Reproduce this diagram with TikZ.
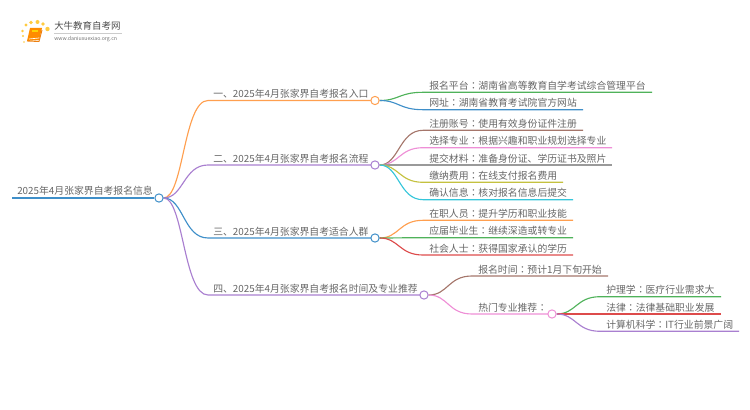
\documentclass[tikz,border=0pt]{standalone}
\usepackage{fontspec}
\setmainfont{Noto Sans CJK SC}
\newfontfamily\tcfont{Noto Sans CJK TC}
\newcommand{\cln}{{\tcfont ：}}
\usetikzlibrary{backgrounds,calc}
\definecolor{cOrange}{HTML}{FF9F4F}
\definecolor{cPurple}{HTML}{A97FD0}
\definecolor{cBlue}{HTML}{3F8FC9}
\definecolor{cGreen}{HTML}{4FB25A}
\definecolor{cBrown}{HTML}{A5766B}
\definecolor{cPink}{HTML}{EE8FD6}
\definecolor{cGray}{HTML}{9A9A9A}
\definecolor{cOlive}{HTML}{C4C13F}
\definecolor{cCyan}{HTML}{35C6DA}
\definecolor{cRed}{HTML}{DD4B4B}
\definecolor{cText}{HTML}{666666}
\tikzset{
  lbl/.style={font=\fontsize{7.38pt}{9pt}\selectfont,text=cText,inner sep=0pt,anchor=base west},
  hub/.style={circle,draw=#1,fill=white,line width=0.75pt,inner sep=0pt,minimum size=6.2pt},
  wire/.style={draw=#1,line width=0.85pt},
  rootwire/.style={draw=#1,line width=1.4pt}
}
% \twig{name}{parent}{x start}{x end}{y}{colour}{text}{text x}
\newcommand{\twig}[8]{%
  \coordinate (#1s) at (#3,#5);
  \coordinate (#1e) at (#4,#5);
  \node[lbl] (#1) at (#8,#5-3) {#7};
  \begin{pgfonlayer}{background}
    \path let \p1=(#2), \p2=(#1s) in
      [wire=#6] (#2) .. controls (\x1*0.5+\x2*0.5,\y1) and (\x1*0.5+\x2*0.5,\y2) .. (#1s) -- (#1e);
  \end{pgfonlayer}
}
\begin{document}
\begin{tikzpicture}[x=0.75pt,y=-0.75pt]
\useasboundingbox (0,0) rectangle (750,410);

% logo
\foreach \n/\a/\b/\r in {d1/26/25/1.6,d2/31/22.5/1.9,d3/37.5/22/2,d4/43/24/1.9,d5/47.5/29/2.2,d6/22.5/31/1.3,d7/23/36/1.1,d8/24/42/0.9}
  \fill[orange!55!yellow,opacity=.75] (\a,\b) circle[radius=\r*0.75pt];
\fill[orange!90!yellow] (30,28) -- (42,28) -- (39,40) -- (27,41) -- cycle;
\draw[white,line width=.5pt] (29,39) -- (39,38);
\draw[orange!70!brown,line width=.7pt] (27,41) -- (39,41.5) -- (42,30);
\fill[yellow!70!orange] (32,30) rectangle (38,32);
\node[inner sep=0pt,anchor=west,text=black!70,font=\fontsize{7.1pt}{9pt}\selectfont] (logotitle) at (54,26) {大牛教育自考网};
\node[inner sep=0pt,anchor=west,text=black!55,font=\fontsize{3.9pt}{5pt}\selectfont] (logourl) at (54,39) {www.daniuxuexiao.org.cn};
\draw[black!20,line width=.4pt] (54,33.5) -- (122,33.5);

% hubs
\node[hub=cBlue] (root) at (159,198) {};
\node[hub=cOrange] (b1) at (375,100.5) {};
\node[hub=cPurple] (b2) at (375,165) {};
\node[hub=cBlue] (b3) at (375,238) {};
\node[hub=cPurple] (b4) at (424,295) {};
\node[hub=cPink] (b5) at (552,314) {};

% root
\coordinate (rootstart) at (12,198);
\node[lbl] (roottext) at (17,195) {2025年4月张家界自考报名信息};
\begin{pgfonlayer}{background}
  \path[rootwire=cBlue] (rootstart) -- (root);
\end{pgfonlayer}

% main branches
\twig{m1}{root}{208}{375}{100.5}{cOrange}{一、2025年4月张家界自考报名入口}{213}
\twig{m2}{root}{208}{375}{165}{cPurple}{二、2025年4月张家界自考报名流程}{213}
\twig{m3}{root}{208}{375}{238}{cBlue}{三、2025年4月张家界自考适合人群}{213}
\twig{m4}{root}{208}{424}{295}{cPurple}{四、2025年4月张家界自考报名时间及专业推荐}{213}

% leaves of 1
\twig{a1}{b1}{423}{652}{92.3}{cGreen}{报名平台\cln 湖南省高等教育自学考试综合管理平台}{429}
\twig{a2}{b1}{423}{583}{109.7}{cBlue}{网址\cln 湖南省教育考试院官方网站}{429}
% leaves of 2
\twig{c1}{b2}{423}{583}{130.3}{cBrown}{注册账号\cln 使用有效身份证件注册}{429}
\twig{c2}{b2}{423}{612}{147.7}{cPink}{选择专业\cln 根据兴趣和职业规划选择专业}{429}
\twig{c3}{b2}{423}{612}{165}{cGray}{提交材料\cln 准备身份证、学历证书及照片}{429}
\twig{c4}{b2}{423}{563}{182.3}{cOlive}{缴纳费用\cln 在线支付报名费用}{429}
\twig{c5}{b2}{423}{573}{199.7}{cCyan}{确认信息\cln 核对报名信息后提交}{429}
% leaves of 3
\twig{e1}{b3}{423}{573}{220.3}{cOrange}{在职人员\cln 提升学历和职业技能}{429}
\twig{e2}{b3}{423}{573}{237.7}{cGreen}{应届毕业生\cln 继续深造或转专业}{429}
\twig{e3}{b3}{423}{573}{255}{cRed}{社会人士\cln 获得国家承认的学历}{429}
% leaves of 4
\twig{f1}{b4}{472}{608}{276}{cBrown}{报名时间\cln 预计1月下旬开始}{478}
\twig{f2}{b4}{472}{552}{314}{cPink}{热门专业推荐\cln}{478}
% leaves of 5
\twig{g1}{b5}{600}{721}{296.7}{cGreen}{护理学\cln 医疗行业需求大}{606}
\twig{g2}{b5}{600}{721}{314}{cRed}{法律\cln 法律基础职业发展}{606}
\twig{g3}{b5}{600}{739}{331.3}{cPurple}{计算机科学\cln IT行业前景广阔}{606}
\end{tikzpicture}
\end{document}
